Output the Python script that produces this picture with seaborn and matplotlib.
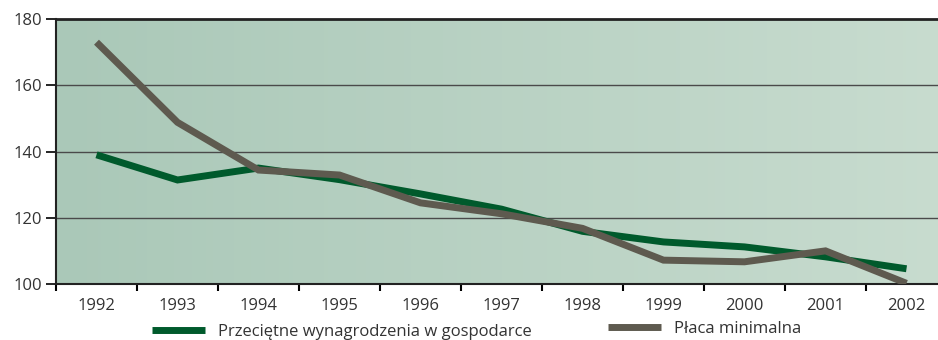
import numpy as np
import pandas as pd
import matplotlib
matplotlib.use("Agg")
import matplotlib.pyplot as plt
import seaborn as sns
from matplotlib.colors import LinearSegmentedColormap
from matplotlib.lines import Line2D

years = ["1992", "1993", "1994", "1995", "1996", "1997", "1998", "1999", "2000", "2001", "2002"]
avg_wage = [139.0, 131.4, 135.0, 131.5, 127.2, 122.6, 115.9, 112.7, 111.2, 108.2, 104.6]
min_wage = [173.0, 148.8, 134.4, 132.9, 124.5, 121.2, 116.8, 107.2, 106.7, 110.0, 100.2]
series_names = ["Przeciętne wynagrodzenia w gospodarce", "Płaca minimalna"]
y_ticks = [100, 120, 140, 160, 180]

green = "#005a2c"
grey = "#5e5a4f"

sns.set_style("ticks")
plt.rcParams["font.family"] = ["Open Sans", "DejaVu Sans"]

fig = plt.figure(figsize=(9.38, 3.40), dpi=100)
ax = fig.add_axes([56 / 938, 56 / 340, 891 / 938, 265 / 340])

# background gradient, darker green on the left fading to a paler tone
cmap = LinearSegmentedColormap.from_list("bg", ["#aac8b8", "#c8dccf"])
grad = np.linspace(0, 1, 256).reshape(1, -1)
ax.imshow(grad, extent=[0, 1, 0, 1], transform=ax.transAxes, cmap=cmap,
          aspect="auto", zorder=0)

df = pd.DataFrame({
    "year": years * 2,
    "value": avg_wage + min_wage,
    "series": [series_names[0]] * len(years) + [series_names[1]] * len(years),
})
df["pos"] = df["year"].map({y: i for i, y in enumerate(years)})

sns.lineplot(data=df, x="pos", y="value", hue="series", palette=[green, grey],
             linewidth=5, ax=ax, legend=False, sort=False, zorder=3)
for ln in ax.lines:
    ln.set_solid_joinstyle("miter")
    ln.set_solid_capstyle("butt")
ax.lines[1].set_zorder(4)

ax.set_xlim(-0.5, 10.5)
ax.set_ylim(100, 180)
ax.set_yticks(y_ticks)
ax.set_yticklabels([str(v) for v in y_ticks])
for v in y_ticks[1:-1]:
    ax.axhline(v, color="#4a4a4a", linewidth=1.0, zorder=1)

ax.set_xticks(np.arange(-0.5, 11, 1))
ax.set_xticklabels([])
ax.set_xticks(np.arange(len(years)), minor=True)
ax.set_xticklabels(years, minor=True)
ax.tick_params(axis="x", which="major", direction="out", length=5, width=1.5, color="black")
ax.tick_params(axis="x", which="minor", length=0, pad=10, labelsize=12, labelcolor="#333333")
ax.tick_params(axis="y", direction="out", length=7, width=1.2, color="black",
               labelsize=12, labelcolor="#333333", pad=3)
ax.set_xlabel("")
ax.set_ylabel("")

for side in ["left", "bottom", "top"]:
    ax.spines[side].set_visible(True)
    ax.spines[side].set_color("#222222")
ax.spines["left"].set_linewidth(1.5)
ax.spines["bottom"].set_linewidth(1.5)
ax.spines["top"].set_linewidth(2.0)
ax.spines["right"].set_visible(False)

# one legend entry per series, each placed under the plot
for color, name, x0, y0 in [(green, series_names[0], 152, 8), (grey, series_names[1], 608, 11)]:
    h = Line2D([], [], color=color, linewidth=5, solid_capstyle="butt")
    fig.legend([h], [name], loc="center left", bbox_to_anchor=(x0 / 938, y0 / 340),
               frameon=False, fontsize=12, handlelength=3.2, handletextpad=0.75,
               labelcolor="#333333", borderaxespad=0, borderpad=0)

fig.savefig("out.png", dpi=100)
